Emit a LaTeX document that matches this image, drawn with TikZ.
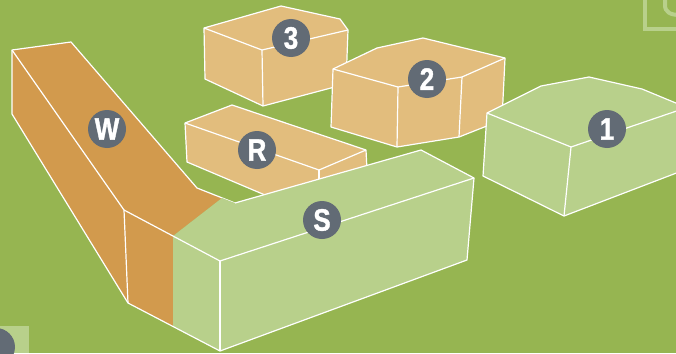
\documentclass[tikz,border=0pt]{standalone}
\usepackage{fontspec}
\newfontfamily\labelfont[FakeStretch=0.84,FakeBold=1.2]{Liberation Sans Bold}
\definecolor{grass}{HTML}{96B551}
\definecolor{pale}{HTML}{B8D08B}
\definecolor{tan}{HTML}{E2BD7D}
\definecolor{ochre}{HTML}{D29A4D}
\definecolor{slate}{HTML}{626B75}
\tikzset{edge/.style={draw=white,line width=1.2pt,line join=round},
lab/.style={circle,fill=slate,text=white,minimum size=38pt,inner sep=0pt,font=\labelfont\fontsize{31}{31}\selectfont},
logo/.style={draw=pale,line width=4pt}}
\begin{document}
\begin{tikzpicture}[x=1pt,y=-1pt]
\useasboundingbox(0,0)rectangle(676,353);
\clip(0,0)rectangle(676,353);
\fill[grass](0,0)rectangle(676,353);
\draw[logo](645,-4)--(645,29)--(680,29);
\draw[logo](665,-4)--(665,5).. controls (665,12) and (670,15) ..(680,15);
\fill[pale](0,326)rectangle(29,353);
% wall
\fill[ochre](12,50)--(71,42)--(197,188)--(222,198)--(173,236)--(173,326)--(128,303)--(12,114)--cycle;
\draw[edge](128,303)--(12,114)--(12,50)--(71,42)--(197,188)--(235,203);
\draw[edge](12,50)--(124,210)--(128,303);
% tan blocks
\fill[tan](204,28)--(281,6)--(340,19)--(348,30)--(346,84)--(263,106)--(205,79)--cycle;
\draw[edge](262,50)--(204,28)--(281,6)--(340,19)--(348,30)--(346,84)--(263,106)--(205,79)--(204,28);
\draw[edge](262,50)--(348,30);\draw[edge](262,50)--(263,106);
\fill[tan](333,69)--(377,48)--(423,38)--(505,58)--(502,120)--(459,137)--(397,147)--(331,127)--cycle;
\draw[edge](333,69)--(377,48)--(423,38)--(505,58)--(502,120)--(459,137)--(397,147)--(331,127)--cycle;
\draw[edge](333,69)--(398,87)--(462,77)--(505,58);\draw[edge](398,87)--(397,147);\draw[edge](462,77)--(459,137);
\fill[tan](185,123)--(232,105)--(366,150)--(367,170)--(265,195)--(187,162)--cycle;
\draw[edge](367,170)--(366,150)--(232,105)--(185,123)--(187,162)--(265,195);
\draw[edge](185,123)--(319,170)--(366,150);\draw[edge](319,170)--(319,182);
% pale blocks
\fill[pale](487,113)--(541,86)--(589,77)--(642,89)--(700,113)--(700,164)--(564,216)--(483,176)--cycle;
\draw[edge](700,113)--(642,89)--(589,77)--(541,86)--(487,113)--(483,176)--(564,216)--(700,164);
\draw[edge](487,113)--(571,147)--(700,103);\draw[edge](571,147)--(564,216);
\fill[pale](173,236)--(222,198)--(235,203)--(421,150)--(474,178)--(467,260)--(220,351)--(173,326)--cycle;
\draw[edge](235,203)--(421,150)--(474,178)--(467,260)--(220,351)--(128,303);
\draw[edge](124,210)--(220,261)--(474,178);\draw[edge](220,261)--(220,351);
\foreach\n/\p in{W/{107,129},3/{291,38},R/{257,150},2/{427,79},1/{607,129},S/{322,220}}\node[lab](b\n)at(\p){\n};
\node[circle,fill=slate,minimum size=38pt,inner sep=0pt](bfive)at(-4,347){};
\end{tikzpicture}
\end{document}
